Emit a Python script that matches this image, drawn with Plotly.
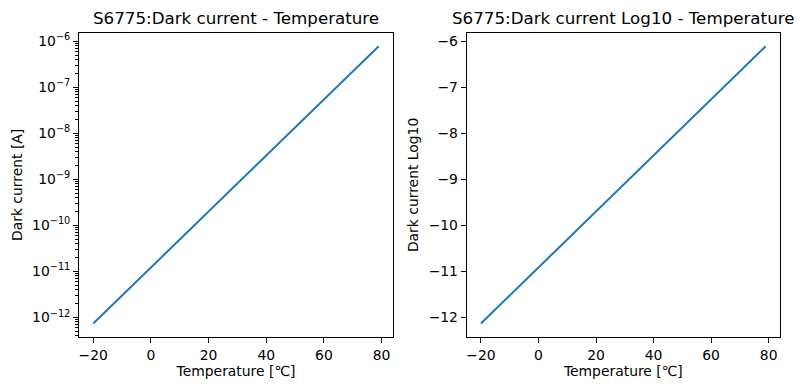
import numpy as np
import plotly.graph_objects as go

temperature = [-20, -10, 0, 10, 20, 30, 40, 50, 60, 70, 79]
dark_current = [7.4e-13, 3.0e-12, 1.23e-11, 5.0e-11, 2.0e-10, 8.1e-10,
                3.3e-9, 1.35e-8, 5.5e-8, 2.2e-7, 7.8e-7]
dark_log10 = [float(np.log10(v)) for v in dark_current]

log_tick_vals = [1e-12, 1e-11, 1e-10, 1e-9, 1e-8, 1e-7, 1e-6]
log_tick_text = ["10<sup>\u221212</sup>", "10<sup>\u221211</sup>", "10<sup>\u221210</sup>",
                 "10<sup>\u22129</sup>", "10<sup>\u22128</sup>", "10<sup>\u22127</sup>",
                 "10<sup>\u22126</sup>"]
lin_tick_vals = [-12, -11, -10, -9, -8, -7, -6]
lin_tick_text = ["\u221212", "\u221211", "\u221210", "\u22129", "\u22128", "\u22127", "\u22126"]
x_tick_vals = [-20, 0, 20, 40, 60, 80]
x_tick_text = ["\u221220", "0", "20", "40", "60", "80"]

minor_vals = [m * 10.0 ** e for e in range(-13, -5) for m in range(2, 10)]

W, H = 803, 390
FONT = "DejaVu Sans"
BLUE = "#1f77b4"
FS = 13.9
TFS = 16.7

fig = go.Figure()
fig.add_trace(go.Scatter(x=temperature, y=dark_current, mode="lines",
                         line=dict(color=BLUE, width=2), xaxis="x", yaxis="y",
                         showlegend=False))
fig.add_trace(go.Scatter(x=temperature, y=dark_log10, mode="lines",
                         line=dict(color=BLUE, width=2), xaxis="x2", yaxis="y2",
                         showlegend=False))

ydom = [(H - 337.3) / H, (H - 32.5) / H]
axis_common = dict(showline=True, linecolor="black", linewidth=1.1, mirror=True,
                   ticks="outside", ticklen=4.9, tickwidth=1.1, tickcolor="black",
                   showgrid=False, zeroline=False, automargin=False,
                   tickfont=dict(family=FONT, size=FS, color="black"))

xmin, xmax = -24.95, 83.95
ylmin, ylmax = -12.43, -5.81

fig.update_layout(
    width=W, height=H,
    margin=dict(l=0, r=0, t=0, b=0),
    paper_bgcolor="white", plot_bgcolor="white",
    font=dict(family=FONT, size=FS, color="black"),
    xaxis=dict(domain=[79 / W, 393 / W], range=[xmin, xmax], anchor="y",
               tickvals=x_tick_vals, ticktext=x_tick_text,
               title=dict(text="Temperature [\u2103]", font=dict(family=FONT, size=FS), standoff=3),
               **axis_common),
    yaxis=dict(domain=ydom, type="log", range=[ylmin, ylmax], anchor="x",
               tickvals=log_tick_vals, ticktext=log_tick_text,
               minor=dict(ticks="outside", ticklen=2.8, tickwidth=0.8, tickcolor="black",
                          tickmode="array", tickvals=minor_vals, showgrid=False),
               title=dict(text="Dark current [A]", font=dict(family=FONT, size=FS), standoff=6),
               **axis_common),
    xaxis2=dict(domain=[466.7 / W, 780 / W], range=[xmin, xmax], anchor="y2",
                tickvals=x_tick_vals, ticktext=x_tick_text,
                title=dict(text="Temperature [\u2103]", font=dict(family=FONT, size=FS), standoff=3),
                **axis_common),
    yaxis2=dict(domain=ydom, range=[ylmin, ylmax], anchor="x2",
                tickvals=lin_tick_vals, ticktext=lin_tick_text,
                title=dict(text="Dark current Log10", font=dict(family=FONT, size=FS), standoff=6),
                **axis_common),
    annotations=[
        dict(text="S6775:Dark current - Temperature", x=0.5, xref="x domain",
             y=1, yref="y domain", yanchor="bottom", xanchor="center", yshift=3,
             showarrow=False, font=dict(family=FONT, size=TFS, color="black")),
        dict(text="S6775:Dark current Log10 - Temperature", x=0.5, xref="x2 domain",
             y=1, yref="y2 domain", yanchor="bottom", xanchor="center", yshift=3,
             showarrow=False, font=dict(family=FONT, size=TFS, color="black")),
    ],
)

fig.write_html("out.html", config={"displayModeBar": False},
               post_script="document.body.style.margin='0';")
